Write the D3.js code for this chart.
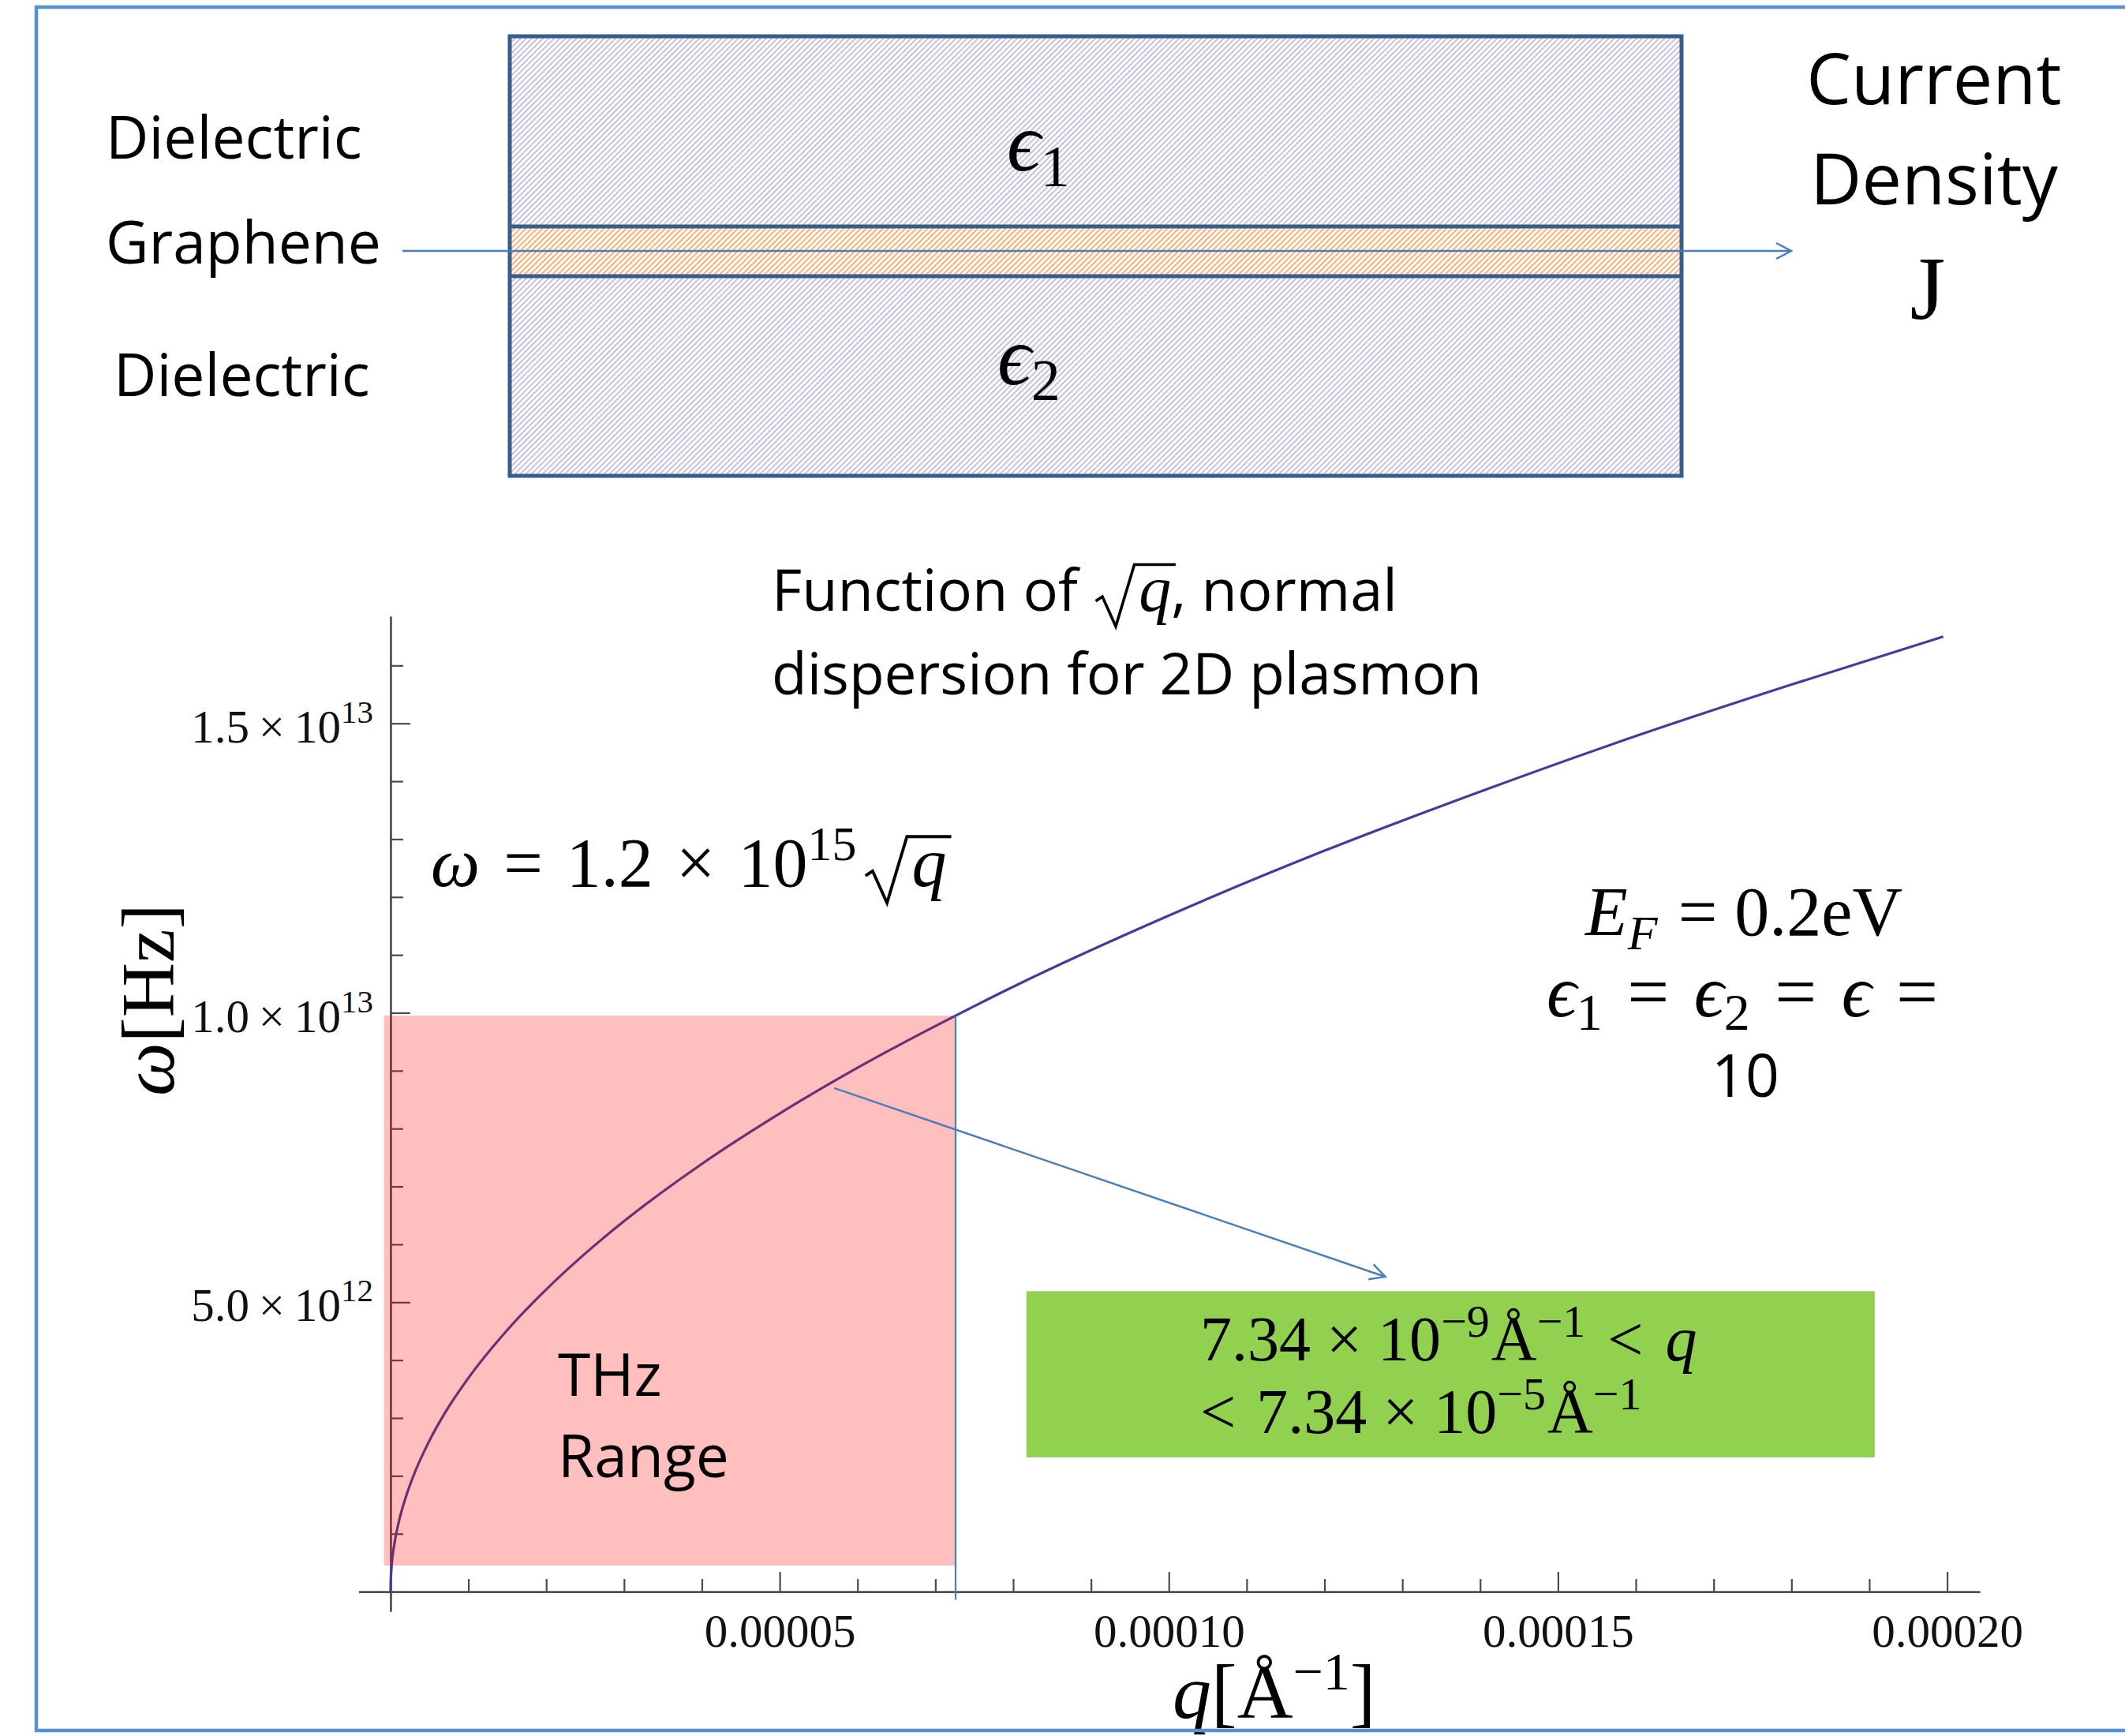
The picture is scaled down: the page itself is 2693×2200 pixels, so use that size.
<!DOCTYPE html>
<html><head><meta charset="utf-8">
<script src="https://cdn.jsdelivr.net/npm/d3@7"></script>
<style>html,body{margin:0;padding:0;background:#fff;} svg{display:block;} text{white-space:pre;}</style>
</head><body>
<svg id="chart" width="2693" height="2200"></svg>
<script>
// ---------------- data ----------------
const curveQ = [0, 0.002e-5, 0.01e-5, 0.05e-5, 0.1e-5, 0.2e-5, 0.3e-5, 0.5e-5, 0.7e-5, 1e-5, 1.5e-5, 2e-5, 2.5e-5, 3e-5, 4e-5, 5e-5, 6e-5, 7.26e-5, 8e-5, 10e-5, 12e-5, 14e-5, 16e-5, 18e-5, 19.95e-5];
const curveOmega = [0, 0.17e12, 0.37e12, 0.83e12, 1.17e12, 1.65e12, 2.02e12, 2.61e12, 3.09e12, 3.69e12, 4.52e12, 5.22e12, 5.84e12, 6.40e12, 7.39e12, 8.26e12, 9.05e12, 9.95e12, 10.45e12, 11.68e12, 12.80e12, 13.82e12, 14.78e12, 15.67e12, 16.50e12];

const xMajorTicks = [5e-5, 10e-5, 15e-5, 20e-5];
const xTickLabels = ["0.00005", "0.00010", "0.00015", "0.00020"];
const xMinorTicks = [1e-5, 2e-5, 3e-5, 4e-5, 6e-5, 7e-5, 8e-5, 9e-5, 11e-5, 12e-5, 13e-5, 14e-5, 16e-5, 17e-5, 18e-5, 19e-5];
const yMajorTicks = [5e12, 10e12, 15e12];
const yTickMantissa = ["5.0", "1.0", "1.5"];
const yTickExponent = ["12", "13", "13"];
const yMinorTicks = [1e12, 2e12, 3e12, 4e12, 6e12, 7e12, 8e12, 9e12, 11e12, 12e12, 13e12, 14e12, 16e12];

const xDomain = [-0.41e-5, 20.42e-5];
const yDomain = [-0.34e12, 16.85e12];

// THz range shading and cut-off line
const thzQ = [-0.085e-5, 7.26e-5];
const thzOmega = [0.45e12, 9.95e12];
const cutoffQ = 7.26e-5;
const cutoffOmega = [-0.14e12, 9.95e12];
// pointer arrow and green box (in data coordinates)
const pointerQ = [5.70e-5, 12.78e-5];
const pointerOmega = [8.70e12, 5.44e12];
const greenQ = [8.17e-5, 19.07e-5];
const greenOmega = [2.32e12, 5.19e12];

// ---------------- setup ----------------
const svg = d3.select("#chart");
const W = 2693, H = 2200;
svg.append("rect").attr("width", W).attr("height", H).attr("fill", "#fff");

const SANS = "'Open Sans', 'Noto Sans', sans-serif";
const SERIF = "'Liberation Serif', 'DejaVu Serif', serif";
const BLUE = "#4a7ebb";

const defs = svg.append("defs");
function hatch(id, color) {
  const p = defs.append("pattern").attr("id", id).attr("patternUnits", "userSpaceOnUse")
    .attr("width", 5).attr("height", 5).attr("patternTransform", "rotate(45)");
  p.append("rect").attr("width", 5).attr("height", 5).attr("fill", "#fff");
  p.append("line").attr("x1", 1).attr("y1", 0).attr("x2", 1).attr("y2", 5)
    .attr("stroke", color).attr("stroke-width", 1.5);
}
hatch("hatchDiel", "#b2acd4");
hatch("hatchGraph", "#f79646");
defs.append("marker").attr("id", "arrowOpen").attr("markerUnits", "userSpaceOnUse")
  .attr("viewBox", "-22 -12 26 24").attr("refX", 0).attr("refY", 0)
  .attr("markerWidth", 26).attr("markerHeight", 24).attr("orient", "auto")
  .append("path").attr("d", "M-19,-10 L0,0 L-19,10").attr("fill", "none")
  .attr("stroke", BLUE).attr("stroke-width", 2.5);

// rich text helper
function rich(parent, x, y, segs, opts) {
  const t = parent.append("text").attr("x", x).attr("y", y)
    .attr("font-family", opts.family).attr("font-size", opts.size)
    .attr("text-anchor", opts.anchor || "start").attr("fill", "#000")
    .attr("xml:space", "preserve");
  let cur = 0;
  const nodes = [];
  segs.forEach(s => {
    const sh = s.shift || 0;
    const ts = t.append("tspan").text(s.t);
    if (sh !== cur) ts.attr("dy", sh - cur);
    cur = sh;
    if (s.size) ts.attr("font-size", s.size);
    if (s.italic) ts.attr("font-style", "italic");
    if (s.family) ts.attr("font-family", s.family);
    if (s.dx) ts.attr("dx", s.dx);
    nodes.push(ts.node());
  });
  t.nodes = nodes;
  return t;
}
function radical(parent, qNode, baseline, fs) {
  const k = fs / 87;
  const x0 = qNode.getStartPositionOfChar(0).x;
  const x1 = qNode.getEndPositionOfChar(0).x;
  const d = `M${x0 - 58 * k},${baseline - 13 * k} L${x0 - 49 * k},${baseline - 19 * k} L${x0 - 31 * k},${baseline + 21 * k} L${x0 - 6 * k},${baseline - 62 * k} L${x1 + 6 * k},${baseline - 62 * k}`;
  parent.append("path").attr("d", d).attr("fill", "none").attr("stroke", "#000")
    .attr("stroke-width", 3.8 * k).attr("stroke-linejoin", "miter");
}

// ---------------- scales & axes ----------------
const x = d3.scaleLinear().domain(xDomain).range([454.5, 2509]);
const y = d3.scaleLinear().domain(yDomain).range([2042, 781]);
const AX = "#4a4a4a";

const gxMinor = svg.append("g").attr("transform", `translate(0,${y(0)})`)
  .call(d3.axisBottom(x).tickValues(xMinorTicks).tickSizeInner(-16).tickSizeOuter(0).tickFormat(""));
const gxMajor = svg.append("g").attr("transform", `translate(0,${y(0)})`)
  .call(d3.axisBottom(x).tickValues(xMajorTicks).tickSizeInner(-25).tickSizeOuter(0).tickPadding(28)
    .tickFormat((d, i) => xTickLabels[i]));
const gyMinor = svg.append("g").attr("transform", `translate(${x(0)},0)`)
  .call(d3.axisLeft(y).tickValues(yMinorTicks).tickSizeInner(-16).tickSizeOuter(0).tickFormat(""));
const gyMajor = svg.append("g").attr("transform", `translate(${x(0)},0)`)
  .call(d3.axisLeft(y).tickValues(yMajorTicks).tickSizeInner(-25).tickSizeOuter(0).tickPadding(22)
    .tickFormat(() => ""));
[gxMinor, gxMajor, gyMinor, gyMajor].forEach(g => {
  g.attr("color", AX).attr("stroke-width", 2.2).attr("font-family", SERIF).attr("font-size", 59);
  g.selectAll("text").attr("fill", "#111");
});
gyMajor.selectAll(".tick text").each(function (d, i) {
  const t = d3.select(this).attr("dy", "0.40em").attr("xml:space", "preserve");
  t.text(null);
  t.append("tspan").text(yTickMantissa[i] + "\u2009\u00d7\u200910");
  t.append("tspan").attr("dy", -25).attr("font-size", 41).text(yTickExponent[i]);
});

// ---------------- marks ----------------
const pts = curveQ.map((q, i) => [q, curveOmega[i]]);
svg.append("path").datum(pts)
  .attr("d", d3.line().x(d => x(d[0])).y(d => y(d[1])).curve(d3.curveMonotoneX))
  .attr("fill", "none").attr("stroke", "#3f3d9e").attr("stroke-width", 3.2);

svg.append("rect")
  .attr("x", x(thzQ[0])).attr("y", y(thzOmega[1]))
  .attr("width", x(thzQ[1]) - x(thzQ[0])).attr("height", y(thzOmega[0]) - y(thzOmega[1]))
  .attr("fill", "#ff0000").attr("fill-opacity", 0.25);

svg.append("line").attr("x1", x(cutoffQ)).attr("x2", x(cutoffQ))
  .attr("y1", y(cutoffOmega[1])).attr("y2", y(cutoffOmega[0]))
  .attr("stroke", BLUE).attr("stroke-width", 2.2);

svg.append("line").attr("x1", x(pointerQ[0])).attr("y1", y(pointerOmega[0]))
  .attr("x2", x(pointerQ[1])).attr("y2", y(pointerOmega[1]))
  .attr("stroke", BLUE).attr("stroke-width", 2.5).attr("marker-end", "url(#arrowOpen)");

svg.append("rect").attr("x", x(greenQ[0])).attr("y", y(greenOmega[1]))
  .attr("width", x(greenQ[1]) - x(greenQ[0])).attr("height", y(greenOmega[0]) - y(greenOmega[1]))
  .attr("fill", "#92d050");

// ---------------- plot texts ----------------
// green box text
rich(svg, 1521, 1724, [
  {t: "7.34 \u00d7 10", dx: 0}, {t: "\u22129", size: 58, shift: -30}, {t: "\u00c5", shift: 0, dx: 2},
  {t: "\u22121", size: 58, shift: -30}, {t: " < ", shift: 0, dx: 8}, {t: "q", italic: true, dx: 8}
], {family: SERIF, size: 80});
rich(svg, 1521, 1816, [
  {t: "< ", dx: 0}, {t: "7.34 \u00d7 10", dx: 6}, {t: "\u22125", size: 58, shift: -30}, {t: "\u00c5", shift: 0, dx: 2},
  {t: "\u22121", size: 58, shift: -30}
], {family: SERIF, size: 80});

// THz Range
rich(svg, 707, 1769, [{t: "THz"}], {family: SANS, size: 75});
rich(svg, 707, 1872, [{t: "Range"}], {family: SANS, size: 75});

// E_F block
rich(svg, 2210, 1185, [
  {t: "E", italic: true}, {t: "F", italic: true, size: 62, shift: 18}, {t: " = 0.2eV", shift: 0, dx: 4}
], {family: SERIF, size: 88, anchor: "middle"});
rich(svg, 2208, 1288, [
  {t: "\u03f5", italic: true}, {t: "1", size: 66, shift: 17}, {t: " = ", shift: 0, dx: 8},
  {t: "\u03f5", italic: true, dx: 8}, {t: "2", size: 66, shift: 17}, {t: " = ", shift: 0, dx: 8},
  {t: "\u03f5", italic: true, dx: 8}, {t: " =", dx: 8}
], {family: SERIF, size: 94, anchor: "middle"});
rich(svg, 2212, 1390, [{t: "10"}], {family: SANS, size: 75, anchor: "middle"});

// equation
const eq = rich(svg, 546, 1123, [
  {t: "\u03c9", italic: true}, {t: " = ", dx: 8}, {t: "1.2", dx: 8}, {t: " \u00d7 ", dx: 7}, {t: "10", dx: 7},
  {t: "15", size: 62, shift: -33}, {t: "q", italic: true, shift: 0, dx: 70}
], {family: SERIF, size: 88});
radical(svg, eq.nodes[6], 1123, 88);

// Function of sqrt(q)
const fn = rich(svg, 978, 774, [
  {t: "Function of "}, {t: "q", italic: true, family: SERIF, size: 82, dx: 58}, {t: ", normal"}
], {family: SANS, size: 74});
radical(svg, fn.nodes[1], 774, 82);
rich(svg, 978, 880, [{t: "dispersion for 2D plasmon"}], {family: SANS, size: 73});

// axis titles
const yl = rich(svg, 0, 0, [{t: "\u03c9", italic: true}, {t: "[Hz]"}], {family: SERIF, size: 96});
yl.attr("transform", "translate(220,1389) rotate(-90)");
rich(svg, 1486, 2177, [
  {t: "q", italic: true}, {t: "[\u00c5"}, {t: "\u22121", size: 68, shift: -36}, {t: "]", shift: 0}
], {family: SERIF, size: 98});

// ---------------- layer diagram ----------------
const dia = {x0: 646, x1: 2131, top: 46, gTop: 287, gBot: 350, bot: 603};
svg.append("rect").attr("x", dia.x0).attr("y", dia.top).attr("width", dia.x1 - dia.x0)
  .attr("height", dia.gTop - dia.top).attr("fill", "url(#hatchDiel)");
svg.append("rect").attr("x", dia.x0).attr("y", dia.gBot).attr("width", dia.x1 - dia.x0)
  .attr("height", dia.bot - dia.gBot).attr("fill", "url(#hatchDiel)");
svg.append("rect").attr("x", dia.x0).attr("y", dia.gTop).attr("width", dia.x1 - dia.x0)
  .attr("height", dia.gBot - dia.gTop).attr("fill", "url(#hatchGraph)");
const OUT = "#385d8a";
svg.append("rect").attr("x", dia.x0).attr("y", dia.top).attr("width", dia.x1 - dia.x0)
  .attr("height", dia.bot - dia.top).attr("fill", "none").attr("stroke", OUT).attr("stroke-width", 5);
[dia.gTop, dia.gBot].forEach(yy => svg.append("line").attr("x1", dia.x0).attr("x2", dia.x1)
  .attr("y1", yy).attr("y2", yy).attr("stroke", OUT).attr("stroke-width", 5));
svg.append("line").attr("x1", 510).attr("x2", 2270).attr("y1", 318).attr("y2", 318)
  .attr("stroke", BLUE).attr("stroke-width", 2.5).attr("marker-end", "url(#arrowOpen)");

rich(svg, 134, 201, [{t: "Dielectric"}], {family: SANS, size: 75});
rich(svg, 134, 334, [{t: "Graphene"}], {family: SANS, size: 75});
rich(svg, 144, 502, [{t: "Dielectric"}], {family: SANS, size: 75});
rich(svg, 1276, 216, [{t: "\u03f5", italic: true}, {t: "1", size: 74, shift: 20}], {family: SERIF, size: 106});
rich(svg, 1264, 487, [{t: "\u03f5", italic: true}, {t: "2", size: 74, shift: 20}], {family: SERIF, size: 106});
rich(svg, 2451, 132, [{t: "Current"}], {family: SANS, size: 90, anchor: "middle"});
rich(svg, 2451, 259, [{t: "Density"}], {family: SANS, size: 90, anchor: "middle"});
rich(svg, 2443, 404, [{t: "J"}], {family: SERIF, size: 115, anchor: "middle"});

// ---------------- slide frame ----------------
const FR = "#5a8ed6";
svg.append("path").attr("d", `M${W},9 H46 V2193 H${W}`).attr("fill", "none")
  .attr("stroke", FR).attr("stroke-width", 4.5);
</script>
</body></html>
